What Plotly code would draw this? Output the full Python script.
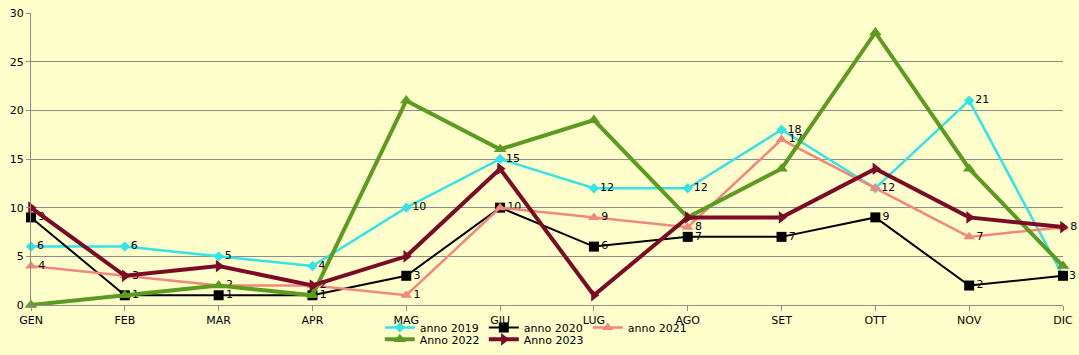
import plotly.graph_objects as go

months = ["GEN", "FEB", "MAR", "APR", "MAG", "GIU", "LUG", "AGO", "SET", "OTT", "NOV", "DIC"]
anno_2019 = [6, 6, 5, 4, 10, 15, 12, 12, 18, 12, 21, 3]
anno_2020 = [9, 1, 1, 1, 3, 10, 6, 7, 7, 9, 2, 3]
anno_2021 = [4, 3, 2, 2, 1, 10, 9, 8, 17, 12, 7, 8]
anno_2022 = [0, 1, 2, 1, 21, 16, 19, 9, 14, 28, 14, 4]
anno_2023 = [10, 3, 4, 2, 5, 14, 1, 9, 9, 14, 9, 8]
y_ticks = [0, 5, 10, 15, 20, 25, 30]

BG = "#FFFFCC"
FONT = "DejaVu Sans"

series = [
    dict(name="anno 2019", y=anno_2019, color="#33E3E8", width=2.5, symbol="diamond", size=8, labels=True, legend="legend"),
    dict(name="anno 2020", y=anno_2020, color="#000000", width=2, symbol="square", size=10, labels=True, legend="legend"),
    dict(name="anno 2021", y=anno_2021, color="#F4867E", width=2.5, symbol="triangle-up", size=10, labels=True, legend="legend"),
    dict(name="Anno 2022", y=anno_2022, color="#5B9B1F", width=4, symbol="triangle-up", size=11, labels=False, legend="legend2"),
    dict(name="Anno 2023", y=anno_2023, color="#7B0A26", width=4, symbol="triangle-right", size=11, labels=False, legend="legend2"),
]

fig = go.Figure()
labelled = []
for s in series:
    text = None
    if s["labels"]:
        # identical labels at the same point are drawn only once
        text = []
        for i, v in enumerate(s["y"]):
            dup = any(prev[i] == v for prev in labelled)
            text.append("" if dup else str(v))
        labelled.append(s["y"])
    fig.add_trace(go.Scatter(
        x=months, y=s["y"], name=s["name"],
        mode="lines+markers+text" if s["labels"] else "lines+markers",
        text=text,
        textposition="middle right",
        textfont=dict(family=FONT, size=11, color="#000000"),
        line=dict(color=s["color"], width=s["width"]),
        marker=dict(symbol=s["symbol"], size=s["size"], color=s["color"]),
        legend=s["legend"],
        cliponaxis=False,
    ))

fig.update_layout(
    width=1079, height=355,
    margin=dict(l=31, r=16, t=13, b=50, autoexpand=False),
    paper_bgcolor=BG, plot_bgcolor=BG,
    font=dict(family=FONT, size=11, color="#000000"),
    xaxis=dict(
        type="category", range=[0, 11], showgrid=False, automargin=False,
        showline=True, linecolor="#8C8C8C", linewidth=1,
        ticks="outside", ticklen=5, tickcolor="#8C8C8C",
        tickfont=dict(family=FONT, size=11), zeroline=False,
    ),
    yaxis=dict(
        range=[0, 30], tickvals=y_ticks, showgrid=True, gridcolor="#8C8C8C", gridwidth=1,
        automargin=False,
        showline=True, linecolor="#8C8C8C", linewidth=1,
        ticks="outside", ticklen=4, tickcolor="#8C8C8C",
        tickfont=dict(family=FONT, size=11), zeroline=False,
    ),
    legend=dict(orientation="h", x=0.338, y=-0.027, xanchor="left", yanchor="top",
                entrywidth=59, entrywidthmode="pixels", bgcolor="rgba(0,0,0,0)",
                font=dict(family=FONT, size=11), itemwidth=30, tracegroupgap=0),
    legend2=dict(orientation="h", x=0.338, y=-0.068, xanchor="left", yanchor="top",
                 entrywidth=59, entrywidthmode="pixels", bgcolor="rgba(0,0,0,0)",
                 font=dict(family=FONT, size=11), itemwidth=30, tracegroupgap=0),
    showlegend=True,
)

fig.write_html("out.html", config={"displayModeBar": False},
               post_script="document.body.style.margin='0';document.body.style.overflow='hidden';")
